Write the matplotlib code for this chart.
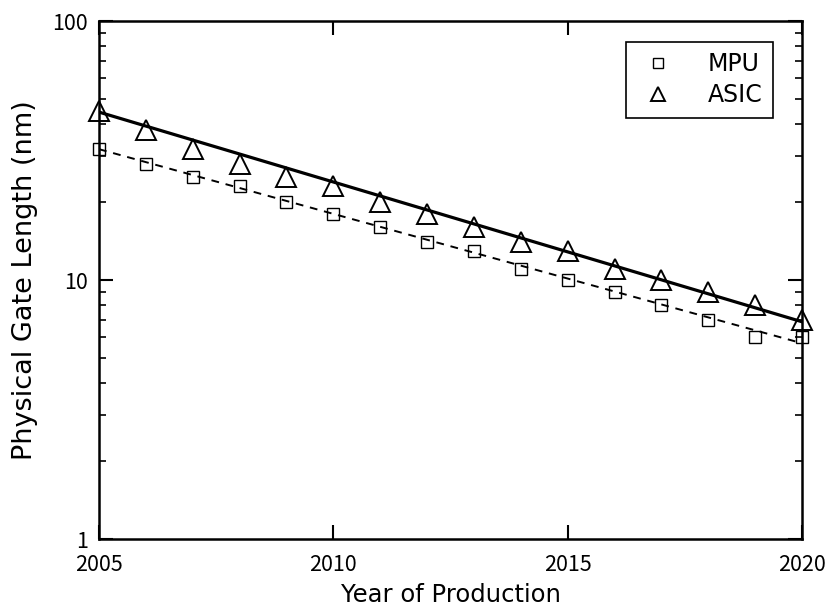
import matplotlib
matplotlib.use("Agg")
import matplotlib.pyplot as plt
from matplotlib.ticker import LogLocator, NullFormatter, FixedLocator
import numpy as np

plt.rcParams['font.family'] = ['Noto Sans CJK JP', 'DejaVu Sans']

# ==============================================================
# Data (physical gate length, nm)
# ==============================================================
years = [2005, 2006, 2007, 2008, 2009, 2010, 2011, 2012,
         2013, 2014, 2015, 2016, 2017, 2018, 2019, 2020]
mpu = [32, 28, 25, 23, 20, 18, 16, 14, 13, 11, 10, 9, 8, 7, 6, 6]
asic = [45, 38, 32, 28, 25, 23, 20, 18, 16, 14, 13, 11, 10, 9, 8, 7]

# trend lines (exponential), read at both ends of the range
trend_years = [2005, 2020]
mpu_trend = [32.0, 5.7]
asic_trend = [44.5, 6.9]

fig = plt.figure(figsize=(8.28, 6.11), dpi=100)
ax = fig.add_axes([0.1196, 0.1178, 0.849, 0.8478])

ax.plot(trend_years, mpu_trend, ls=(0, (4, 3.5)), color='black', lw=1.4, zorder=2)
ax.plot(trend_years, asic_trend, ls='-', color='black', lw=2.3, zorder=2)

ax.plot(years, mpu, ls='none', marker='s', ms=9, mfc='none', mec='black',
        mew=1.0, label='MPU', clip_on=False, zorder=3)
ax.plot(years, asic, ls='none', marker='^', ms=14, mfc='none', mec='black',
        mew=1.4, label='ASIC', clip_on=False, zorder=3)

ax.set_yscale('log')
ax.set_xlim(2005, 2020)
ax.set_ylim(1, 100)
ax.set_xticks([2005, 2010, 2015, 2020])
ax.set_xticklabels(['2005', '2010', '2015', '2020'])
ax.yaxis.set_major_locator(FixedLocator([1, 10, 100]))
ax.set_yticklabels(['1', '10', '100'])
ax.yaxis.set_minor_locator(LogLocator(base=10, subs=np.arange(2, 10)))
ax.yaxis.set_minor_formatter(NullFormatter())

ax.tick_params(axis='both', which='major', direction='in', length=10, width=1.5,
               top=True, right=True, labelsize=15.5, colors='black')
ax.tick_params(axis='y', which='minor', direction='in', length=5, width=1.2,
               right=True)
ax.tick_params(axis='x', which='major', pad=11)
ax.tick_params(axis='y', which='major', pad=8)
for s in ax.spines.values():
    s.set_linewidth(1.8)

ax.set_xlabel('Year of Production', fontsize=17.5, family='DejaVu Sans', labelpad=5)
ax.set_ylabel('Physical Gate Length (nm)', fontsize=19.5, family='DejaVu Sans', labelpad=10)

leg = ax.legend(loc='upper right', bbox_to_anchor=(0.959, 0.96), borderaxespad=0,
                prop={'family': 'DejaVu Sans', 'size': 17},
                frameon=True, fancybox=False, edgecolor='black', framealpha=1,
                handletextpad=1.2, borderpad=0.45, labelspacing=0.3,
                markerscale=0.75, handlelength=1.8)
leg.get_frame().set_linewidth(1.2)

fig.savefig('out.png', dpi=100)
